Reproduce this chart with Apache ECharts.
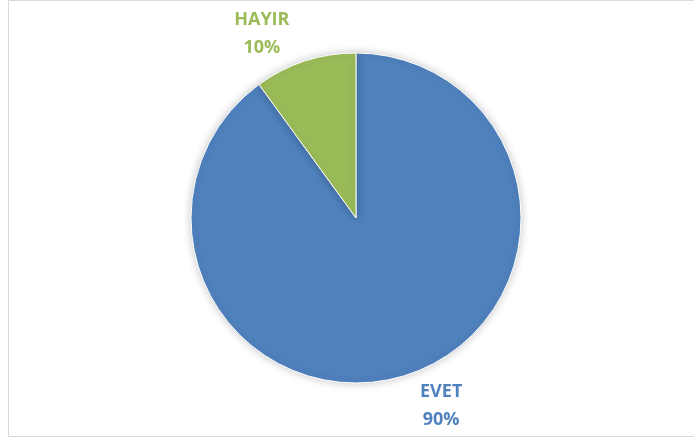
<!DOCTYPE html>
<html>
<head>
<meta charset="utf-8">
<script src="https://cdn.jsdelivr.net/npm/echarts@6/dist/echarts.min.js"></script>
<style>
  html, body { margin: 0; padding: 0; background: #ffffff; }
  #chart { width: 694px; height: 443px; }
</style>
</head>
<body>
<div id="chart"></div>
<script>
// Answer categories and their shares
const categories = ['EVET', 'HAYIR'];
const values = [90, 10];
const colors = ['#4f81bd', '#9bbb59'];

// small nudges for the outside labels, per category
const labelShift = [[23, 12], [-32, -8]];

const chart = echarts.init(document.getElementById('chart'), null, { renderer: 'canvas' });

const pieData = categories.map((name, i) => ({
  name: name,
  value: values[i],
  itemStyle: { color: colors[i] },
  label: { color: colors[i] }
}));

chart.setOption({
  animation: false,
  backgroundColor: '#ffffff',
  graphic: [{
    type: 'rect',
    shape: { x: 8.5, y: 0.5, width: 700, height: 436 },
    style: { fill: 'none', stroke: '#d9d9d9', lineWidth: 1 },
    silent: true
  }],
  series: [{
    type: 'pie',
    center: [356, 218],
    radius: 165,
    startAngle: 90,
    clockwise: true,
    data: pieData,
    itemStyle: {
      borderColor: '#ffffff',
      borderWidth: 1,
      shadowBlur: 8,
      shadowColor: 'rgba(0,0,0,0.22)'
    },
    label: {
      show: true,
      position: 'outside',
      formatter: '{b}\n{d}%',
      fontFamily: 'Open Sans',
      fontWeight: 'bold',
      fontSize: 18,
      lineHeight: 28
    },
    labelLine: { show: false, length: 20, length2: 0 },
    labelLayout: function (params) {
      const s = labelShift[params.dataIndex];
      return { align: 'center', verticalAlign: 'middle', dx: s[0], dy: s[1] };
    }
  }]
});
</script>
</body>
</html>
